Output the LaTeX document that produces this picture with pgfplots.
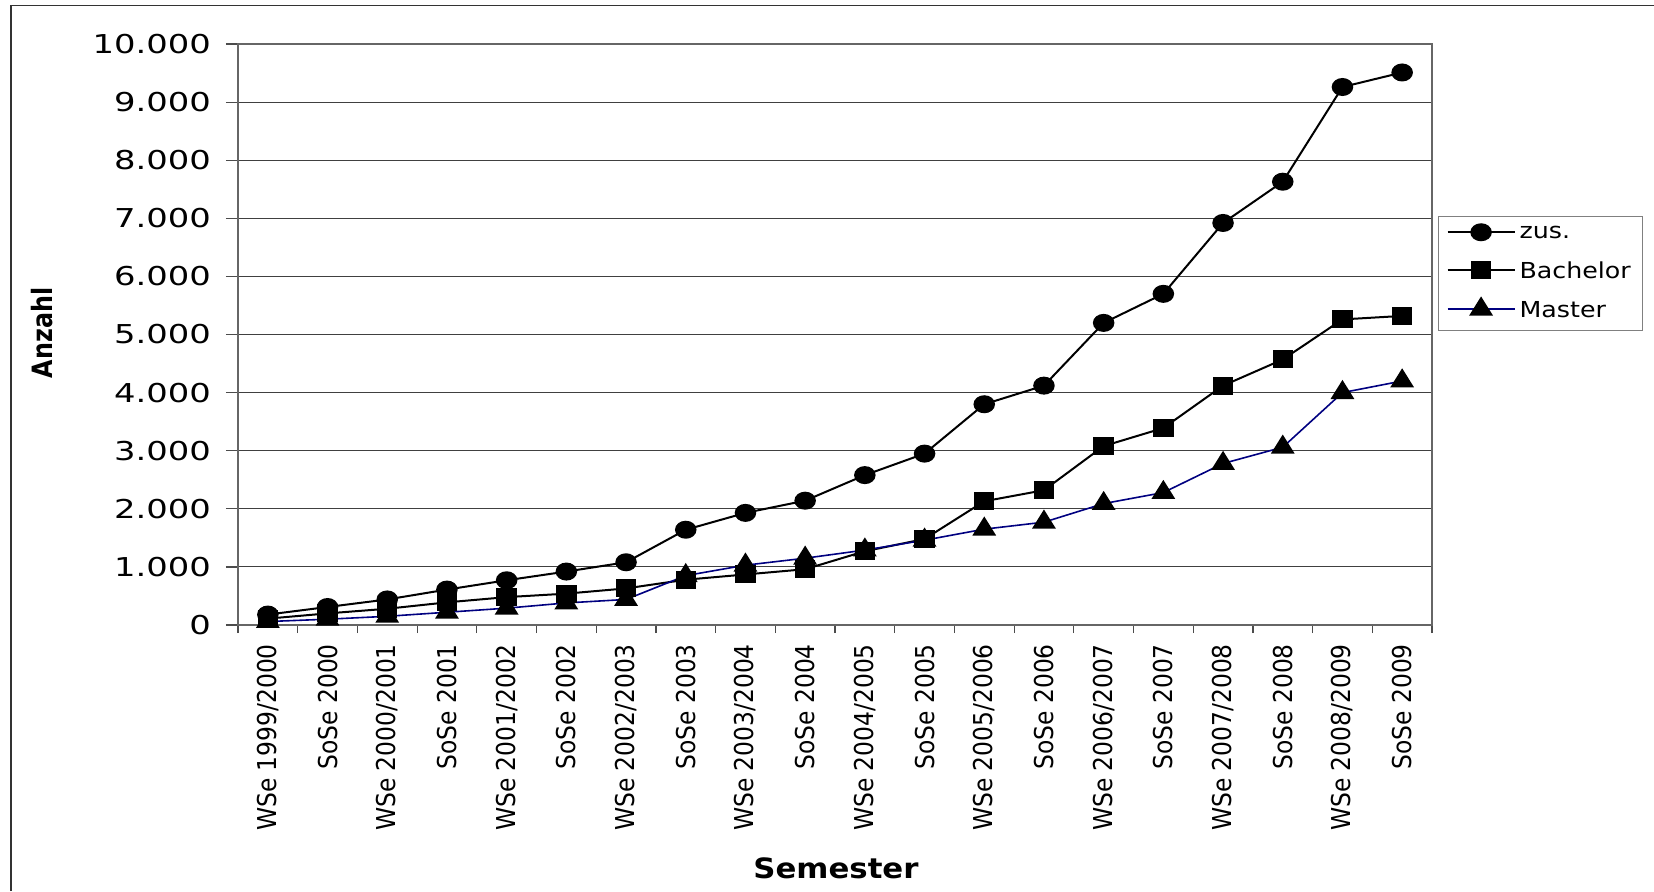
\documentclass[border=0pt]{standalone}
\usepackage{pgfplots}
\pgfplotsset{compat=1.18}
\usepackage{pgfplotstable}
\usepackage{fontspec}
\setmainfont{DejaVu Sans}
\newfontfamily\ytfont[FakeStretch=1.3]{DejaVu Sans}
\newfontfamily\xtfont[FakeStretch=0.9]{DejaVu Sans}
\newfontfamily\lgfont[FakeStretch=1.15]{DejaVu Sans}
\newfontfamily\semfont[FakeStretch=1.1]{DejaVu Sans}
\newfontfamily\anzfont[FakeStretch=0.85]{DejaVu Sans}
\definecolor{masterblue}{RGB}{0,0,128}

\pgfplotstableread{
x zus bach mast
0 180 110 60
1 310 200 100
2 440 280 150
3 610 390 220
4 770 480 290
5 920 540 380
6 1080 630 440
7 1640 780 850
8 1930 870 1030
9 2140 960 1150
10 2580 1270 1290
11 2950 1480 1460
12 3800 2130 1650
13 4120 2320 1770
14 5200 3080 2090
15 5700 3390 2280
16 6920 4120 2780
17 7630 4570 3060
18 9260 5260 4000
19 9510 5320 4200
}\data

\begin{document}
\begin{tikzpicture}
\useasboundingbox (0pt,0pt) rectangle (827pt,-445.5pt);
\draw[line width=0.6pt, black!80] (5.5pt,-445.5pt) -- (5.5pt,-2.75pt) -- (827pt,-2.75pt);
\begin{axis}[
  at={(119pt,-22pt)}, anchor=north west,
  scale only axis, width=597pt, height=290.5pt,
  xmin=-0.5, xmax=19.5, ymin=0, ymax=10000,
  xtick={0,...,19},
  xticklabels={WSe 1999/2000,SoSe 2000,WSe 2000/2001,SoSe 2001,WSe 2001/2002,SoSe 2002,WSe 2002/2003,SoSe 2003,WSe 2003/2004,SoSe 2004,WSe 2004/2005,SoSe 2005,WSe 2005/2006,SoSe 2006,WSe 2006/2007,SoSe 2007,WSe 2007/2008,SoSe 2008,WSe 2008/2009,SoSe 2009},
  major x tick style={draw=none},
  minor xtick={-0.5,0.5,...,19.5},
  tick pos=left,
  tick align=outside,
  major tick length=6pt, minor tick length=4pt,
  tick style={black!70, line width=0.6pt},
  ytick={0,1000,...,10000},
  scaled y ticks=false,
  /pgf/number format/.cd, 1000 sep={.}, assume math mode=true, /pgfplots/.cd,
  ymajorgrids, grid style={black!75, line width=0.5pt},
  axis line style={black!60, line width=0.8pt},
  yticklabel style={font=\fontsize{13}{15}\ytfont, anchor=east, xshift=-4pt},
  xticklabel style={font=\fontsize{13}{15}\xtfont, rotate=90, anchor=east},
  legend style={at={(1.005,0.704)}, anchor=north west, draw=black!50, line width=0.6pt,
    font=\fontsize{11}{13}\lgfont, row sep=6pt, inner xsep=4pt, inner ysep=3pt,
    nodes={yshift=-1pt}},
  legend cell align=left,
  legend image code/.code={\draw[mark repeat=2,mark phase=2,#1] plot coordinates {(0pt,0pt) (16.75pt,0pt) (33.5pt,0pt)};},
  clip=false,
]
\addplot[black, line width=1pt, mark=*, mark size=4pt, mark options={xscale=1.22, solid, fill=black}] table[x=x,y=zus]{\data};
\addlegendentry{zus.}
\addplot[black, line width=1pt, mark=square*, mark size=4pt, mark options={xscale=1.15, solid, fill=black}] table[x=x,y=bach]{\data};
\addlegendentry{Bachelor}
\addplot[masterblue, line width=0.8pt, mark=triangle*, mark size=5.6pt, mark options={xscale=1.08, solid, fill=black, draw=black}] table[x=x,y=mast]{\data};
\addlegendentry{Master}
\end{axis}
\node[font=\fontsize{14}{16}\semfont\bfseries] at (418pt,-434pt) {Semester};
\node[font=\fontsize{14}{16}\anzfont\bfseries, rotate=90] at (21pt,-166.5pt) {Anzahl};
\end{tikzpicture}
\end{document}
